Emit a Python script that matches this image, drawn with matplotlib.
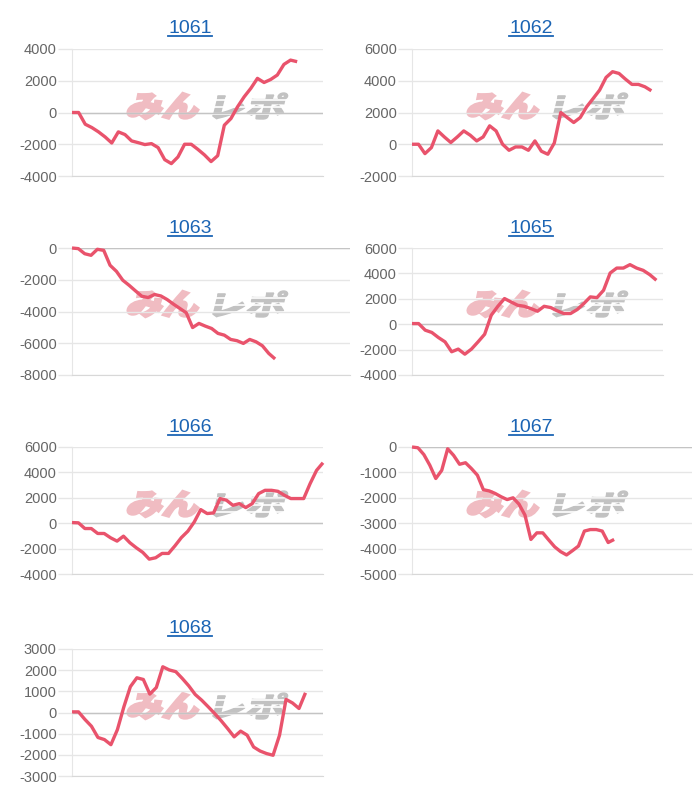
import matplotlib
matplotlib.use("Agg")
import matplotlib.pyplot as plt
from matplotlib.textpath import TextPath
from matplotlib.patches import PathPatch
from matplotlib.transforms import Affine2D
from matplotlib.font_manager import FontProperties
import numpy as np

plt.rcParams['font.family'] = ['Liberation Sans', 'DejaVu Sans']

# data (one list per machine)
names = ["1061", "1062", "1063", "1065", "1066", "1067", "1068"]

s1061 = [0, 0, -740, -950, -1220, -1540, -1920, -1220, -1390, -1790, -1900, -2020, -1960, -2210,
         -2970, -3220, -2800, -2000, -2000, -2320, -2670, -3090, -2720, -800, -380, 360, 990, 1520,
         2150, 1890, 2080, 2360, 3030, 3300, 3200]
s1062 = [0, 0, -590, -210, 840, 460, 110, 460, 840, 570, 210, 460, 1160, 840, 0, -380, -170, -170,
         -380, 210, -440, -630, 80, 2000, 1680, 1370, 1680, 2360, 2880, 3410, 4210, 4570, 4460, 4100,
         3770, 3770, 3620, 3370]
s1063 = [0, -40, -360, -460, -80, -150, -1090, -1470, -2030, -2350, -2700, -3040, -3120, -2930, -3020,
         -3250, -3540, -3810, -4080, -5010, -4750, -4920, -5070, -5380, -5490, -5760, -5840, -6010,
         -5760, -5910, -6160, -6640, -6990]
s1065 = [50, 50, -470, -650, -1050, -1390, -2170, -1960, -2360, -1960, -1390, -790, 710, 1410, 2020,
         1750, 1490, 1410, 1230, 1020, 1410, 1310, 1050, 840, 840, 1150, 1620, 2150, 2090, 2670, 4030,
         4420, 4420, 4690, 4420, 4240, 3900, 3460]
s1066 = [50, 30, -420, -420, -810, -810, -1150, -1410, -1020, -1540, -1940, -2300, -2830, -2720, -2380,
         -2380, -1780, -1130, -630, 100, 1070, 760, 810, 1940, 1810, 1410, 1540, 1230, 1540, 2330, 2590,
         2590, 2510, 2200, 1940, 1940, 1940, 3120, 4160, 4760]
s1067 = [0, -30, -300, -720, -1240, -920, -70, -330, -680, -620, -850, -1110, -1680, -1730, -1830,
         -1960, -2070, -2000, -2250, -2680, -3640, -3380, -3380, -3660, -3930, -4120, -4250, -4080,
         -3900, -3310, -3250, -3250, -3310, -3760, -3640]
s1068 = [30, 30, -330, -650, -1180, -1280, -1520, -810, 270, 1220, 1640, 1560, 870, 1180, 2160, 2010,
         1930, 1610, 1260, 850, 580, 270, -50, -390, -760, -1150, -880, -1070, -1630, -1820, -1940,
         -2020, -1070, 620, 450, 190, 930]
series = [s1061, s1062, s1063, s1065, s1066, s1067, s1068]

yticks = [np.arange(-4000, 4001, 2000), np.arange(-2000, 6001, 2000), np.arange(-8000, 1, 2000),
          np.arange(-4000, 6001, 2000), np.arange(-4000, 6001, 2000), np.arange(-5000, 1, 1000),
          np.arange(-3000, 3001, 1000)]

# layout in pixels: plot box (left, top, right, bottom), x span, title centre, title baseline, watermark
boxes = [(72, 49, 323, 176), (412, 49, 663, 176), (72, 248, 350, 375), (412, 248, 663, 375),
         (72, 447, 323, 574), (412, 447, 692, 574), (72, 649, 323, 776)]
xspan = [37.9, 38.8, 43.8, 38.0, 39.0, 47.1, 38.7]
title_pos = [(190, 33), (531, 33), (190, 233), (531, 233), (190, 432), (531, 432), (190, 633)]
wm_pos = [(125, 92), (465, 92), (125, 290), (465, 290), (125, 490), (465, 490), (125, 692)]

W, H = 700, 800
line_col = "#e9536c"
grid_col = "#e6e6e6"
zero_col = "#c4c4c4"
title_col = "#1b64b4"

fig = plt.figure(figsize=(7, 8), dpi=100)
ov = fig.add_axes([0, 0, 1, 1], zorder=0)
ov.set_xlim(0, W)
ov.set_ylim(0, H)
ov.axis("off")

jp = FontProperties(family="Noto Sans CJK JP", weight="heavy")


def watermark(x0, ytop):
    for txt, col, dx, ew in [("みん", "#f0bcc2", 0, 1.8), ("レポ", "#c2c2c2", 86, 1.0)]:
        tp = TextPath((0, 0), txt, size=30, prop=jp)
        ext = tp.get_extents()
        tr = (Affine2D().translate(-ext.x0, -ext.y0)
              .scale(70 / ext.width, 26 / ext.height)
              .skew_deg(14, 0)
              .translate(x0 + dx + 1, H - ytop - 27))
        ov.add_patch(PathPatch(tr.transform_path(tp), fc=col, ec=col, lw=ew, joinstyle="miter"))
    # speed stripes on the grey part
    for f in [0.3, 0.55, 0.8]:
        ov.plot([x0 + 84, x0 + 170], [H - ytop - 28 * f] * 2, color="white", lw=1.2)


for i in range(len(names)):
    l, t, r, b = boxes[i]
    ax = fig.add_axes([l / W, 1 - b / H, (r - l) / W, (b - t) / H], zorder=1)
    ax.patch.set_visible(False)
    vals = series[i]
    ax.plot(range(len(vals)), vals, color=line_col, lw=2.4, solid_joinstyle="round",
            solid_capstyle="butt", clip_on=False, zorder=3)
    ax.set_xlim(0, xspan[i])
    ax.set_ylim(yticks[i][0], yticks[i][-1])
    ax.set_yticks(yticks[i])
    ax.set_yticklabels([str(v) for v in yticks[i]])
    ax.set_xticks([])
    ax.yaxis.grid(True, color=grid_col, lw=1)
    ax.axhline(0, color=zero_col, lw=1, zorder=2)
    ax.tick_params(axis="y", length=10, width=1, color=grid_col, pad=1, labelsize=10.5,
                   labelcolor="#666666")
    for tk, v in zip(ax.yaxis.get_major_ticks(), yticks[i]):
        if v == 0:
            tk.tick1line.set_color(zero_col)
    for sp in ["top", "right"]:
        ax.spines[sp].set_visible(False)
    ax.spines["left"].set_color(grid_col)
    ax.spines["bottom"].set_color("#d8d8d8")
    watermark(*wm_pos[i])

titles = []
for i in range(len(names)):
    tx, ty = title_pos[i]
    titles.append(fig.text(tx / W, 1 - ty / H, names[i], ha="center", va="baseline",
                           fontsize=14, color=title_col))

fig.canvas.draw()
for t in titles:
    bb = t.get_window_extent()
    ov.plot([bb.x0, bb.x1], [bb.y0 + 1.5] * 2, color=title_col, lw=1.3)

fig.savefig("out.png", dpi=100)
